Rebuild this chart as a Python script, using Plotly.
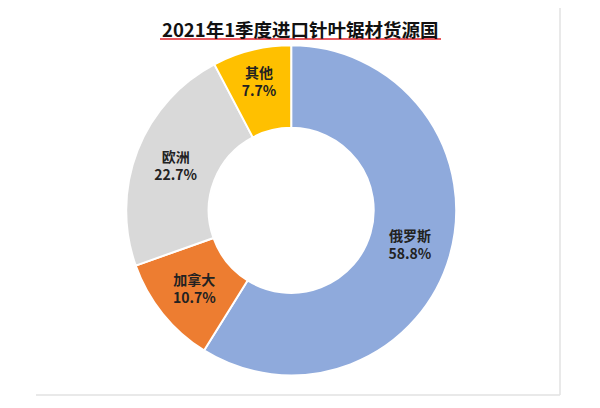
import plotly.graph_objects as go

title_text = "2021年1季度进口针叶锯材货源国"
countries = ["俄罗斯", "加拿大", "欧洲", "其他"]
shares = [58.8, 10.7, 22.7, 7.7]
slice_colors = ["#8FAADC", "#ED7D31", "#D9D9D9", "#FFC000"]

labels_txt = [f"<b>{c}</b><br><b>{v:.1f}%</b>" for c, v in zip(countries, shares)]

# the page adds an 8px body margin, so positions are set 8px up/left
off = 8

fig = go.Figure()
fig.add_trace(go.Pie(
    labels=countries,
    values=shares,
    text=labels_txt,
    textinfo="text",
    textposition="inside",
    insidetextorientation="horizontal",
    textfont=dict(family="Noto Sans CJK SC", size=14, color="#222222"),
    marker=dict(colors=slice_colors, line=dict(color="white", width=2)),
    hole=0.5,
    sort=False,
    direction="clockwise",
    rotation=0,
    domain=dict(x=[0.197, 0.747], y=[0.099, 0.909]),
    showlegend=False,
))

fig.add_annotation(
    text=f"<b>{title_text}</b>",
    x=(300 - off) / 600, y=1 - (29 - off) / 408, xref="paper", yref="paper",
    showarrow=False, xanchor="center", yanchor="middle",
    font=dict(family="Noto Sans CJK SC", size=18.5, color="#111111"),
)

# red underline below the title
fig.add_shape(type="line", xref="paper", yref="paper",
              x0=(160 - off) / 600, x1=(441 - off) / 600,
              y0=1 - (39 - off) / 408, y1=1 - (39 - off) / 408,
              line=dict(color="#E0202A", width=1.5))

# faint chart frame edges (right and bottom)
fig.add_shape(type="line", xref="paper", yref="paper",
              x0=(560 - off) / 600, x1=(560 - off) / 600,
              y0=1 - (8 - off) / 408, y1=1 - (395 - off) / 408,
              line=dict(color="#E2E2E2", width=1.5))
fig.add_shape(type="line", xref="paper", yref="paper",
              x0=(36 - off) / 600, x1=(560 - off) / 600,
              y0=1 - (395 - off) / 408, y1=1 - (395 - off) / 408,
              line=dict(color="#E2E2E2", width=1.5))

fig.update_layout(
    width=600, height=408,
    margin=dict(l=0, r=0, t=0, b=0),
    paper_bgcolor="white",
    plot_bgcolor="white",
)

fig.write_html("out.html")
